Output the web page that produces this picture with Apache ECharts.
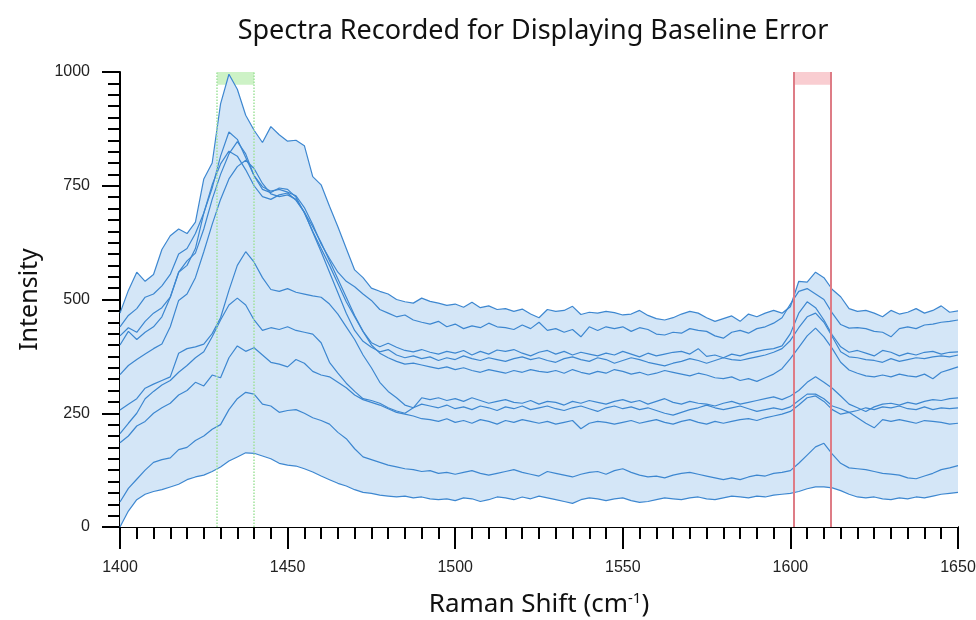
<!DOCTYPE html>
<html><head><meta charset="utf-8">
<script src="https://cdn.jsdelivr.net/npm/echarts@6/dist/echarts.min.js"></script>
<style>html,body{margin:0;padding:0;background:#fff}#chart{width:976px;height:620px}</style>
</head><body><div id="chart"></div>
<script>
const ramanShift = [
1400,1402.5,1405,1407.5,1410,1412.5,1415,1417.5,1420,1422.5,
1425,1427.5,1430,1432.5,1435,1437.5,1440,1442.5,1445,1447.5,
1450,1452.5,1455,1457.5,1460,1462.5,1465,1467.5,1470,1472.5,
1475,1477.5,1480,1482.5,1485,1487.5,1490,1492.5,1495,1497.5,
1500,1502.5,1505,1507.5,1510,1512.5,1515,1517.5,1520,1522.5,
1525,1527.5,1530,1532.5,1535,1537.5,1540,1542.5,1545,1547.5,
1550,1552.5,1555,1557.5,1560,1562.5,1565,1567.5,1570,1572.5,
1575,1577.5,1580,1582.5,1585,1587.5,1590,1592.5,1595,1597.5,
1600,1602.5,1605,1607.5,1610,1612.5,1615,1617.5,1620,1622.5,
1625,1627.5,1630,1632.5,1635,1637.5,1640,1642.5,1645,1647.5,
1650];
const spectrumA = [
470,520,560,540,555,610,640,655,645,670,
765,800,930,995,962,905,872,845,880,862,
848,850,838,770,752,705,660,612,565,548,
525,518,512,500,495,492,503,496,492,487,
490,483,494,482,486,478,480,474,479,468,
460,478,474,476,485,467,472,470,474,471,
466,468,476,465,458,455,460,468,474,470,
460,452,458,464,452,468,462,470,476,470,
484,540,538,560,548,522,506,480,474,476,
470,462,476,468,472,480,470,476,486,472,
475];
const spectrumB = [
440,465,480,505,512,530,555,600,612,645,
690,745,815,868,852,812,772,748,738,742,
736,728,702,665,622,590,560,540,528,512,
498,478,470,462,466,455,450,446,452,440,
446,436,442,438,448,440,438,434,444,436,
450,432,436,428,434,418,440,432,440,436,
440,430,438,434,424,422,428,426,436,432,
430,420,415,428,432,426,436,440,448,460,
490,518,524,512,500,470,445,437,438,436,
430,428,418,436,440,436,444,446,450,452,
455];
const spectrumC = [
420,438,428,452,470,482,505,560,585,602,
655,720,775,820,847,820,772,742,735,745,
742,725,690,650,612,575,535,495,462,430,
405,396,404,395,388,385,390,384,380,386,
382,388,378,386,380,389,386,390,382,376,
384,388,380,386,378,384,380,376,382,378,
386,380,374,382,376,380,384,386,380,392,
375,378,372,380,376,382,386,390,392,398,
425,470,495,482,455,422,396,384,388,382,
376,388,384,376,382,378,384,386,380,384,
385];
const spectrumD = [
400,430,412,428,440,462,505,560,575,612,
690,752,798,826,815,785,750,726,720,730,
734,718,692,648,605,560,515,470,432,408,
395,385,390,378,372,376,370,374,366,372,
368,376,370,366,372,368,364,370,374,368,
372,366,362,370,374,368,364,372,368,360,
366,372,368,362,358,354,360,364,370,366,
360,366,372,368,366,370,374,378,384,392,
410,438,462,470,450,418,385,374,372,368,
366,362,370,364,368,372,370,374,376,374,
378];
const spectrumE = [
335,355,368,380,392,402,440,498,512,548,
605,665,720,765,792,806,788,755,732,726,
730,720,692,660,625,585,545,505,465,430,
400,382,372,364,358,360,356,352,348,352,
346,350,344,340,346,342,338,344,340,346,
342,340,344,338,346,340,336,342,338,346,
342,336,340,334,338,344,340,336,332,338,
334,328,326,330,322,326,320,328,336,348,
370,395,420,437,418,392,362,345,338,332,
330,334,330,336,332,330,336,326,340,346,
352];
const spectrumF = [
257,270,282,305,314,322,330,382,392,396,
402,425,460,520,575,605,582,548,522,518,
524,516,512,508,505,490,468,440,412,378,
350,318,298,284,268,262,284,280,284,278,
282,276,284,278,272,276,280,274,272,278,
270,276,274,268,276,272,278,274,270,276,
280,274,278,270,276,282,274,270,276,272,
270,266,272,276,270,274,278,282,286,280,
288,300,318,330,318,305,288,270,262,254,
264,270,272,268,274,270,276,280,278,282,
284];
const spectrumG = [
205,228,250,282,298,312,322,340,355,372,
385,418,455,488,503,488,455,432,438,434,
440,432,428,424,405,362,338,316,298,282,
278,272,262,255,250,262,270,266,262,268,
260,264,258,266,262,256,264,260,266,258,
262,266,260,256,262,266,260,254,262,266,
260,264,258,262,256,250,246,252,258,262,
268,262,258,262,266,260,254,258,262,258,
264,278,292,292,282,266,260,252,256,262,
258,264,262,266,260,258,264,258,262,260,
262];
const spectrumH = [
185,200,222,232,250,262,272,290,300,318,
310,334,328,372,398,386,394,378,362,358,
352,368,360,342,334,330,318,306,290,280,
274,268,260,252,248,244,238,236,232,238,
230,234,228,236,232,226,234,230,236,232,
228,232,226,230,234,216,228,232,230,226,
230,234,228,232,236,230,226,232,236,230,
226,232,228,232,236,238,234,240,244,248,
254,268,284,288,276,258,248,252,240,228,
218,236,232,236,232,228,234,232,230,226,
228];
const spectrumI = [
55,85,105,125,142,148,152,170,175,190,
200,215,225,258,282,296,292,270,266,252,
256,258,250,240,234,226,208,194,172,154,
148,142,136,132,128,126,122,124,118,120,
116,120,124,118,114,118,122,126,120,116,
112,122,118,114,110,116,120,122,116,124,
128,120,114,110,112,108,114,118,120,116,
112,108,104,108,104,110,114,112,118,120,
124,140,158,176,184,160,140,130,128,126,
122,118,116,114,108,106,112,118,126,130,
135];
const spectrumJ = [
0,35,60,72,78,82,88,94,104,110,
114,122,132,145,154,163,162,156,150,140,
136,134,128,121,112,104,96,90,82,76,
74,70,68,66,68,64,66,62,60,62,
58,64,62,56,60,66,64,60,66,62,
68,64,60,56,52,60,64,62,58,62,
64,58,54,56,60,64,62,60,64,66,
62,60,64,68,66,64,68,66,70,72,
74,78,84,88,88,86,80,72,66,64,
66,62,60,64,62,66,64,68,72,74,
76];
const intensityTicks = [0, 250, 500, 750, 1000];
const shiftTicks = [1400, 1450, 1500, 1550, 1600, 1650];
const greenWindow = [1429, 1440];
const redWindow = [1601, 1612];
const windowCap = [972, 1000];

const spectra = [spectrumA, spectrumB, spectrumC, spectrumD, spectrumE, spectrumF, spectrumG, spectrumH, spectrumI, spectrumJ];
const envHigh = ramanShift.map((x, i) => [x, Math.max(...spectra.map(s => s[i]))]);
const envLow = ramanShift.map((x, i) => [x, Math.min(...spectra.map(s => s[i]))]);

const chart = echarts.init(document.getElementById('chart'), null, {renderer: 'canvas'});
const labelFont = 'Liberation Sans, Arial, sans-serif';
const textFont = 'Noto Sans, Open Sans, sans-serif';
const plain = v => String(v);
const option = {
  animation: false,
  backgroundColor: '#ffffff',
  graphic: [{
    type: 'text', x: 533, y: 31,
    style: {text: 'Spectra Recorded for Displaying Baseline Error', font: '27px ' + textFont, fill: '#111',
      align: 'center', verticalAlign: 'middle', textAlign: 'center', textVerticalAlign: 'middle'}
  }],
  grid: {left: 120, right: 18, top: 72, bottom: 93, containLabel: false, outerBoundsMode: 'none'},
  xAxis: {
    type: 'value', min: shiftTicks[0], max: shiftTicks[shiftTicks.length - 1],
    interval: shiftTicks[1] - shiftTicks[0],
    name: 'Raman Shift (cm{sup|-1})', nameLocation: 'middle', nameGap: 64,
    nameTextStyle: {fontFamily: textFont, fontSize: 26, color: '#111',
      rich: {sup: {fontFamily: textFont, fontSize: 15, color: '#111', verticalAlign: 'top', padding: [0, 0, 12, 0]}}},
    axisLine: {show: true, onZero: false, lineStyle: {color: '#000', width: 2}},
    axisTick: {show: true, length: 22, lineStyle: {color: '#000', width: 2}},
    minorTick: {show: true, splitNumber: 10, length: 12, lineStyle: {color: '#000', width: 2}},
    axisLabel: {margin: 33, fontFamily: labelFont, fontSize: 16, color: '#222', formatter: plain},
    splitLine: {show: false}, minorSplitLine: {show: false}
  },
  yAxis: {
    type: 'value', min: intensityTicks[0], max: intensityTicks[intensityTicks.length - 1],
    interval: intensityTicks[1] - intensityTicks[0],
    name: 'Intensity', nameLocation: 'middle', nameGap: 78, nameRotate: 90,
    nameTextStyle: {fontFamily: textFont, fontSize: 25, color: '#111'},
    axisLine: {show: true, lineStyle: {color: '#000', width: 2}},
    axisTick: {show: true, length: 18, lineStyle: {color: '#000', width: 2}},
    minorTick: {show: true, splitNumber: 10, length: 12, lineStyle: {color: '#000', width: 2}},
    axisLabel: {margin: 30, fontFamily: labelFont, fontSize: 16, color: '#222', formatter: plain},
    splitLine: {show: false}, minorSplitLine: {show: false}
  },
  series: [
    {name: 'envHigh', type: 'line', data: envHigh, symbol: 'none', silent: true,
      lineStyle: {width: 0, opacity: 0}, areaStyle: {color: '#d4e6f7', opacity: 1, origin: 'start'}, z: 1},
    {name: 'envLow', type: 'line', data: envLow, symbol: 'none', silent: true,
      lineStyle: {width: 0, opacity: 0}, areaStyle: {color: '#ffffff', opacity: 1, origin: 'start'}, z: 1},
    {name: 'windows', type: 'line', data: [], symbol: 'none', silent: true, z: 2,
      markArea: {silent: true, label: {show: false}, data: [
        [{xAxis: greenWindow[0], yAxis: windowCap[0], itemStyle: {color: '#cdf2c6'}}, {xAxis: greenWindow[1], yAxis: windowCap[1]}],
        [{xAxis: redWindow[0], yAxis: windowCap[0], itemStyle: {color: '#f9cdd1'}}, {xAxis: redWindow[1], yAxis: windowCap[1]}]
      ]},
      markLine: {silent: true, symbol: ['none', 'none'], label: {show: false}, data: [
        {xAxis: greenWindow[0], lineStyle: {color: '#9fe29a', type: 'dotted', width: 1.5}},
        {xAxis: greenWindow[1], lineStyle: {color: '#9fe29a', type: 'dotted', width: 1.5}},
        {xAxis: redWindow[0], lineStyle: {color: '#de7c86', type: 'solid', width: 2}},
        {xAxis: redWindow[1], lineStyle: {color: '#de7c86', type: 'solid', width: 2}}
      ]}
    }
  ].concat(spectra.map((s, k) => ({
    name: 'spectrum' + k, type: 'line', symbol: 'none', silent: true, z: 3,
    data: ramanShift.map((x, i) => [x, s[i]]),
    lineStyle: {color: '#3d87d0', width: 1.2}
  })))
};
chart.setOption(option);
</script></body></html>
